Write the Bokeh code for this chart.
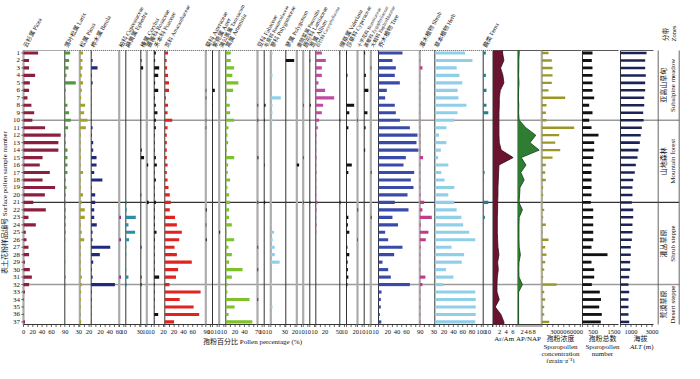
from bokeh.plotting import figure
from bokeh.models import Range1d, Label
from bokeh.core.properties import value
from bokeh.embed import file_html
from bokeh.resources import INLINE

# ---------------- data ----------------
samples = list(range(1, 38))

picea = [31.5, 12, 12, 25, 13.6, 12, 8.6, 17, 23, 19,
         46.5, 80, 75, 75, 41, 35, 56.6, 41, 68, 46,
         21, 48, 10.7, 26.5, 5, 6.5, 10.7, 12, 3, 13.6,
         18, 12, 3, 1, 0.5, 0.5, 3]
larix = [11.5, 9.3, 8, 3.6, 23.6, 2, 1, 5.7, 9.3, 13,
         7, 2, 2, 5.7, 5.7, 5.7, 5.7, 2, 3.6, 2,
         2, 2, 2, 2, 2, 1, 0.5, 0.5, 1, 0.5,
         2, 1, 0.5, 0.5, 0.5, 0.5, 0.5]
pinus = [7, 5.7, 5.7, 4.3, 7, 4.3, 3, 11.5, 9.3, 16.5,
         13, 2, 2, 2, 2, 2, 7, 2, 2, 7,
         4.3, 10.8, 10.8, 2, 4.3, 9.3, 2, 2, 2, 2,
         4.3, 4.3, 3, 2, 2, 2, 3]
betula = [0.5, 3, 13.6, 1.5, 3, 0.5, 0.5, 0.5, 0.5, 0.5,
          3, 1.5, 4.3, 4.3, 11.5, 11.5, 6.5, 24, 1.5, 8.6,
          8.6, 6.5, 6.5, 12, 3, 3, 41, 18.6, 4.3, 1.5,
          3, 51, 1.5, 1.5, 0.5, 0.5, 0.5]
cupressaceae = [0, 0, 0, 0, 0, 0, 0, 0, 0, 0,
                0, 0, 0, 0, 0, 0, 0, 0, 0, 0,
                0, 0, 4, 0, 0, 4, 0, 0, 0, 0,
                4, 0, 0, 0, 0, 0, 0]
ephedra = [0, 0, 0, 0, 0, 0, 0, 0, 0, 0,
           0, 0, 0, 0, 0, 0, 0, 0, 0, 0,
           2, 2, 21.5, 5.7, 20, 7, 1, 1, 0, 1,
           5.7, 2, 0, 0, 0, 0, 0]
corylus = [0, 1.5, 5, 0, 0, 0, 0, 0, 0, 0,
           0, 0, 0, 2, 7, 0, 0, 0, 0, 1,
           0, 0, 0, 0, 0, 0, 1.5, 0, 0, 0,
           1.5, 1.5, 0, 0, 0, 0, 0]
rosaceae = [0, 0, 0, 0, 0, 0, 0, 0, 0, 0,
            0, 0, 0, 0, 0, 3, 0, 0, 0, 0,
            4, 0, 0, 0, 0, 0, 0, 0, 0, 0,
            0, 0, 0, 0, 0, 0, 0]
poaceae = [3.6, 2, 10.7, 8.6, 2, 8.6, 1.5, 3.6, 7, 3.6,
           3.6, 1, 1, 1, 3.6, 5.7, 1, 3.6, 1, 1,
           3.6, 1, 1.5, 1.5, 5, 1.5, 1, 1, 1, 1,
           10.7, 1, 1, 1, 0.5, 8.6, 0.5]
amaranthaceae = [7, 4, 5, 7, 9, 9, 2.5, 7, 6, 16,
                 6, 4.3, 4.3, 4.3, 4.3, 6, 4.3, 6, 8, 10.7,
                 12.9, 10.7, 22, 26, 36.6, 31, 21, 26, 58, 28.6,
                 24, 10, 77, 32, 62, 74, 20]
asteraceae = [0, 0, 0, 0, 0, 1, 1, 0, 0, 1,
              1, 0, 0, 0, 0, 0, 0, 0, 0, 0,
              0, 2, 0, 1, 0, 2, 0, 0, 0, 0,
              0, 0, 0, 0, 0, 0, 0]
aster = [0, 0, 0, 0, 0, 5, 1, 1, 0, 0,
         0, 0, 0, 0, 0, 0, 0, 0, 0, 0,
         0, 0, 0, 0, 0, 0, 0, 0, 0, 0,
         0, 0, 0, 0, 0, 0, 0]
taraxacum = [0, 0, 0, 0, 0, 0, 0, 0, 0, 0,
             0, 0, 0, 0, 0, 0, 0, 0, 0, 0,
             0, 0, 0, 0, 2, 0, 0, 0, 0, 0,
             0, 0, 0, 0, 0, 0, 0]
artemisia = [10.7, 10.7, 18, 14, 27, 15.7, 2, 8.6, 9.3, 18,
             5.7, 3.6, 5, 2, 18, 5, 4.3, 9.3, 3.6, 7,
             9.3, 7, 7, 13, 2, 18, 5.7, 13, 7, 36,
             13, 3.6, 3.6, 51, 19, 6, 57]
fabaceae = [0, 0, 0, 0, 0, 0, 0, 1.5, 0, 1.5,
            0, 0, 0, 0, 2, 0, 0, 0, 0, 0,
            1.5, 0, 0, 0, 0, 0, 1.5, 0, 0, 1.5,
            0, 0, 0, 1.5, 0, 0, 0]
ranunculaceae = [0, 0, 0, 0, 0, 0, 0, 3, 0, 1,
                 0, 0, 0, 0, 0, 1, 0, 0, 0, 0,
                 2, 0, 0, 0, 0, 0, 0, 0, 0, 0,
                 0, 0, 0, 0, 0, 0, 0]
polygonaceae = [3.6, 1, 1, 3.6, 1, 1, 21.5, 3.6, 3.6, 3.6,
                1, 0.5, 0.5, 0.5, 1, 0.5, 0.5, 0.5, 0.5, 0.5,
                1, 0.5, 0.5, 1, 7, 4, 8.6, 8.6, 19, 0.5,
                0.5, 2, 0.5, 0.5, 3.6, 1, 0.5]
polygonum = [0, 18, 0, 0, 0, 0, 0, 0, 0, 0,
             0, 0, 0, 0, 0, 0, 0, 0, 0, 0,
             0, 0, 0, 0, 0, 0, 0, 0, 0, 0,
             0, 0, 0, 0, 0, 0, 0]
potentilla = [0, 0, 0, 0, 0, 0, 0, 0, 0, 0,
              0, 0, 0, 0, 0, 5, 0, 0, 0, 0,
              0, 0, 0, 0, 0, 0, 0, 0, 0, 0,
              0, 0, 0, 0, 0, 0, 0]
lamiaceae = [0, 0, 0, 0, 0, 0, 0, 1, 0, 0,
             0, 0, 0, 0, 1, 0, 0, 0, 0, 0,
             1, 0, 0, 0, 0, 0, 0, 0, 0, 0,
             0, 0, 0, 0, 0, 0, 0]
allium = [0, 1, 0, 0, 0, 0, 0, 2, 0, 0,
          0, 0, 0, 0, 0, 0, 0, 0, 0, 0,
          1, 0, 0, 0, 0, 0, 0, 0, 0, 0,
          0, 0, 0, 0, 0, 0, 0]
caryophyllaceae = [13, 21.5, 13, 13, 5.7, 20, 39.5, 15.7, 13, 7,
                   4.3, 1.5, 1, 1, 1.5, 1, 1.5, 1, 1, 1,
                   3.6, 1.5, 1, 1.5, 1, 0.5, 0.5, 0.5, 0.5, 0.5,
                   0.5, 0.5, 0.5, 0.5, 0.5, 0.5, 0.5]
valeriana = [0.5, 0, 0, 0, 0, 0, 0, 0, 0, 1,
             0, 0, 0, 0, 0, 0, 0, 0, 0, 0,
             1.5, 0, 0, 0, 0, 0, 0, 0, 0, 0,
             0, 0, 0, 0, 0, 0, 0]
cyperaceae = [0.5, 0, 0, 2, 0, 0, 0, 16.5, 6, 0,
              4, 0, 0, 0, 0, 11.4, 4, 0, 0, 0,
              0, 0, 4, 3, 6, 0, 2, 6, 2.5, 3,
              4, 2, 0, 0, 0, 0, 0]
brassicaceae = [0, 0, 0, 0, 0, 0, 0, 0, 0, 1,
                0, 0, 0, 0, 0, 0, 0, 0, 0, 0,
                0, 1.5, 0, 0, 0, 1, 0, 0, 0, 0,
                0, 0, 0, 0, 0, 0, 0]
zygophyllaceae = [2, 0, 0, 3.6, 0, 9, 0, 0, 7, 0,
                  3, 0, 0, 2, 0, 0, 0, 0, 0, 0,
                  0, 0, 0, 0, 0, 0, 0, 0, 0, 0,
                  0, 0, 0, 0, 0, 0, 0]
euphorbiaceae = [0, 0, 1, 0, 0, 0, 0, 0, 0, 0,
                 0, 0, 0, 0, 0, 0, 1.5, 0, 0, 0,
                 0, 0, 1.5, 0, 0, 0, 0, 0, 0, 0,
                 0, 0, 0, 0, 0, 0, 0]
tree = [51.6, 30, 37.3, 35, 45.9, 17.9, 14.3, 35, 37.3, 46,
        67.4, 83.9, 81.7, 86, 58.8, 53.8, 76.7, 69.6, 75.3, 62.4,
        35, 64.5, 30, 42, 14.3, 20.8, 51.6, 33.7, 8.6, 20.8,
        26.5, 67.4, 6.5, 5, 5, 3, 6]
shrub = [0.5, 1, 5.7, 0.5, 0.5, 0.5, 0.5, 0.5, 0.5, 1,
         1, 1, 1, 1, 7, 1, 1, 1, 1, 1.5,
         9.3, 5.7, 25.8, 2, 18.6, 12.9, 1.5, 1, 1, 1,
         12, 5.7, 1, 1, 1, 1, 1]
herb = [65, 81, 47, 53, 59, 49, 51, 68, 49, 42,
        25, 9, 25, 13, 7, 29, 14, 21, 42, 29,
        42, 47, 57, 61, 74, 87, 36, 63, 58, 24,
        40, 18, 87, 88, 88, 88, 87]
ferns = [5.7, 0.5, 0.5, 5.7, 0.5, 7, 0.5, 7, 11, 1,
         1.5, 0.5, 0.5, 1, 0.5, 1.5, 3, 1.5, 0.5, 1.5,
         11, 0.5, 3.6, 0.5, 0.5, 0.5, 1.5, 0.5, 0.5, 0.5,
         1.5, 0.5, 0.5, 0.5, 0.5, 0.5, 0.5]
ar_am = [2.9, 3.3, 2.3, 3.0, 3.3, 2.2, 1.9, 1.9, 1.8, 1.8,
         1.8, 1.8, 1.9, 2.5, 6.1, 1.8, 1.7, 1.6, 1.5, 1.5,
         1.4, 1.4, 1.3, 1.3, 1.3, 1.4, 1.5, 1.8, 1.4, 1.6,
         1.3, 1.2, 1.2, 1.9, 0.7, 2.4, 3.3]
ap_nap = [0.6, 0.4, 0.4, 0.3, 0.5, 0.3, 0.2, 0.4, 0.3, 0.6,
          3.9, 8.9, 6.0, 10.6, 1.6, 4.0, 1.4, 3.1, 1.0, 0.8,
          0.5, 2.2, 0.6, 0.5, 0.5, 0.5, 0.6, 1.2, 0.5, 0.4,
          0.5, 2.2, 0.3, 0.3, 0.3, 0.3, 0.3]
concentration = [12200, 18200, 19500, 19500, 18200, 12200, 42500, 8500, 7300, 8500,
                 58900, 31600, 24400, 33500, 19500, 7300, 6200, 7300, 2500, 2500,
                 2500, 4400, 2500, 7300, 1300, 12200, 6200, 8500, 6200, 4400,
                 2500, 26700, 4400, 6200, 4400, 4400, 13500]
pollen_number = [476, 443, 476, 476, 476, 476, 557, 319, 476, 319,
                 429, 762, 557, 557, 510, 429, 429, 429, 429, 429,
                 395, 510, 510, 510, 510, 510, 429, 1190, 429, 557,
                 557, 443, 824, 880, 795, 919, 871]
altitude = [2480, 2350, 2350, 2410, 2350, 2350, 2260, 2260, 2160, 2200,
            2030, 1930, 1840, 1710, 1620, 1460, 1360, 1210, 1140, 1140,
            1080, 1210, 1210, 1140, 1140, 1080, 980, 980, 920, 920,
            830, 760, 830, 760, 760, 760, 830]

zone_bounds = [10, 21, 32]
zone_cn = ["亚高山草甸", "山地森林", "灌丛草原", "荒漠草原"]
zone_en = ["Subalpine meadow", "Mountain forest", "Shrub steppe", "Desert steppe"]

# ---------------- layout ----------------
FONT = "Liberation Serif, Noto Sans CJK SC"
PX0, PX1, PY0, PY1 = 8, 692, 8, 371      # figure area in reference-pixel coordinates
ROW0, ROWH = 60.5, 7.47                   # pixel row of sample 1, pixel step per sample
PCT = 0.465                               # px per percent


def s_at(py):
    return 1 + (py - ROW0) / ROWH


TOP_S, BOT_S = s_at(58), s_at(332)
TICK_S, LAB_S = s_at(334.5), s_at(339)

p = figure(width=684, height=363, output_backend="svg", toolbar_location=None,
           x_axis_type=None, y_axis_type=None, min_border=0,
           x_range=Range1d(PX0, PX1), y_range=Range1d(s_at(PY1), s_at(PY0)),
           outline_line_color=None, background_fill_color="white",
           border_fill_color="white")
p.extra_y_ranges = {"img": Range1d(PY1, PY0)}
ranges = {}


def txt(x, y, s, size="7px", angle=0, align="center", baseline="middle",
        style="normal", xr="default", yr="img", xoff=0):
    p.add_layout(Label(x=x, y=y, text=s, x_range_name=xr, y_range_name=yr,
                       angle=angle, angle_units="deg", text_font=FONT,
                       text_font_size=size, text_align=align, text_baseline=baseline,
                       text_font_style=style, text_color="#111111", x_offset=xoff))


def fit_size(s, room=48.0, base=6.0):
    cjk = sum(1 for c in s if ord(c) > 0x2E80)
    other = len(s) - cjk
    est = cjk * 1.0 + other * 0.47
    return "%.2fpx" % min(base, room / est)


def frame(name, zero, k, span, step, labels, kind, dotted=True, fmt=str):
    ranges[name] = Range1d((PX0 - zero) / k, (PX1 - zero) / k)
    if kind == "grey":
        lc, lw = "#ababab", 2.2
    else:
        lc, lw = "#333333", 1.0
    p.segment(x0=[0], y0=[TOP_S], x1=[0], y1=[BOT_S], x_range_name=name,
              line_color=lc, line_width=lw)
    p.segment(x0=[0], y0=[TOP_S], x1=[span], y1=[TOP_S], x_range_name=name,
              line_color="#444444", line_width=0.9,
              line_dash="1 1" if dotted else "solid")
    p.segment(x0=[0], y0=[BOT_S], x1=[span], y1=[BOT_S], x_range_name=name,
              line_color="#222222", line_width=0.9)
    n = int(span / step + 1e-9) + 1
    ticks = [i * step for i in range(n)]
    p.segment(x0=ticks, y0=[BOT_S] * n, x1=ticks, y1=[TICK_S] * n,
              x_range_name=name, line_color="#222222", line_width=0.7)
    if labels:
        p.text(x=labels, y=[LAB_S] * len(labels), text=[fmt(v) for v in labels],
               x_range_name=name, text_font=value(FONT), text_font_size="6.5px",
               text_align="center", text_baseline="middle", text_color="#111111")


pct_panels = [
    ("picea", "云杉属 Picea", 31.0, "#8c1f3f", "grey", [0, 20, 40, 60, 90], picea),
    ("larix", "落叶松属 Larix", 72.3, "#4e9a3a", "dark", [30], larix),
    ("pinus", "松属 Pinus", 87.3, "#a5a22b", "grey", [20], pinus),
    ("betula", "桦木属 Betula", 98.7, "#1f2b7a", "dark", [20, 40, 60], betula),
    ("cupress", "柏科 Cupressaceae", 126.7, "#8a3a9a", "grey", [10], cupressaceae),
    ("ephedra", "麻黄属 Ephedra", 133.3, "#2b8ea8", "dark", [30], ephedra),
    ("corylus", "榛属 Corylus", 148.3, "#111111", "dark", [10], corylus),
    ("rosaceae", "蔷薇科 Rosaceae", 154.3, "#111111", "grey", [10], rosaceae),
    ("poaceae", "禾本科 Poaceae", 161.7, "#111111", "dark", [20], poaceae),
    ("amaranth", "苋科 Amaranthaceae", 172.3, "#e0231f", "dark", [20, 40, 60, 90], amaranthaceae),
    ("asteraceae", "菊科 Asteraceae", 213.3, "#111111", "grey", [10], asteraceae),
    ("aster", "紫菀属 Aster", 220.0, "#111111", "dark", [10], aster),
    ("taraxacum", "蒲公英属 Taraxacum", 226.7, "#111111", "grey", [10], taraxacum),
    ("artemisia", "蒿属 Artemisia", 233.3, "#7dc22a", "dark", [20, 40, 70], artemisia),
    ("fabaceae", "豆科 Fabaceae", 265.0, "#111111", "grey", [10], fabaceae),
    ("ranunc", "毛茛科 Ranunculaceae", 271.7, "#111111", "dark", [10], ranunculaceae),
    ("polygonaceae", "蓼科 Polygonaceae", 278.3, "#8fd0ec", "grey", [30], polygonaceae),
    ("polygonum", "蓼属 Polygonum", 293.3, "#111111", "dark", [20], polygonum),
    ("potentilla", "委陵菜属 Potentilla", 304.3, "#111111", "grey", [10], potentilla),
    ("lamiaceae", "唇形科 Lamiaceae", 310.7, "#111111", "grey", [10], lamiaceae),
    ("allium", "葱属 Allium", 317.3, "#111111", "dark", [10], allium),
    ("caryo", "石竹科 Caryophyllaceae", 323.3, "#c04aa0", "dark", [20, 50], caryophyllaceae),
    ("valeriana", "缬草属 Valeriana", 347.3, "#111111", "dark", [10], valeriana),
    ("cyperaceae", "莎草科 Cyperaceae", 354.0, "#111111", "dark", [20], cyperaceae),
    ("brassica", "十字花科 Brassicaceae", 365.0, "#111111", "grey", [10], brassicaceae),
    ("zygo", "蒺藜科 Zygophyllaceae", 371.7, "#111111", "dark", [10], zygophyllaceae),
    ("euphorb", "大戟科 Euphorbiaceae", 378.3, "#111111", "grey", [10], euphorbiaceae),
    ("tree", "乔木植物 Tree", 386.0, "#3a4aa8", "dark", [20, 40, 60, 90], tree),
    ("shrub", "灌木植物 Shrub", 427.3, "#c23a8a", "grey", [30], shrub),
    ("herb", "草本植物 Herb", 442.3, "#8fcfe8", "dark", [20, 40, 60, 80, 100], herb),
    ("ferns", "蕨类 Ferns", 490.7, "#1f7f94", "dark", [10], ferns),
]
NEXT_ZERO_AFTER_FERNS = 500.5

# zone boundary lines (behind bars)
p.segment(x0=[31] * 3, y0=zone_bounds, x1=[686.7] * 3, y1=zone_bounds,
          line_color=["#9a9a9a", "#333333", "#9a9a9a"], line_width=[1.5, 1.2, 1.5])

for i, (name, label, zero, color, kind, labs, vals) in enumerate(pct_panels):
    nxt = pct_panels[i + 1][2] if i + 1 < len(pct_panels) else NEXT_ZERO_AFTER_FERNS
    span = (nxt - zero) / PCT
    frame(name, zero, PCT, span, 10, labs, kind)
    p.hbar(y=samples, height=0.42, left=0, right=vals, x_range_name=name,
           fill_color=color, line_color=None)
    txt(0, 54.5, label, size=fit_size(label), angle=62, align="left", xr=name, xoff=1.5)

# ---- ratio / count panels ----
ys_area = [TOP_S] + samples + [BOT_S]

frame("aram", 500.5, 3.3, (525.5 - 500.5) / 3.3, 1, [2, 4, 6], "dark", dotted=False)
aa = [ar_am[0]] + ar_am + [ar_am[-1]]
p.harea(x1=[0] * len(aa), x2=aa, y=ys_area, x_range_name="aram",
        fill_color="#6b1430")
p.line(x=aa, y=ys_area, x_range_name="aram", line_color="#3a0818", line_width=0.8)

frame("apnap", 525.5, 2.0, (549.3 - 525.5) / 2.0, 1, [2, 4, 6, 8], "dark", dotted=False)
ap = [ap_nap[0]] + ap_nap + [ap_nap[-1]]
p.harea(x1=[0] * len(ap), x2=ap, y=ys_area, x_range_name="apnap",
        fill_color="#2e7d32")
p.line(x=ap, y=ys_area, x_range_name="apnap", line_color="#123d14", line_width=0.8)

frame("conc", 549.3, 0.00055, (589.0 - 549.3) / 0.00055, 10000, [30000, 60000],
      "grey", dotted=False)
p.hbar(y=samples, height=0.32, left=0, right=concentration, x_range_name="conc",
       fill_color="#9b9626", line_color=None)

frame("num", 590.0, 0.021, (626.0 - 590.0) / 0.021, 250, [500, 1500], "dark", dotted=False)
p.hbar(y=samples, height=0.38, left=0, right=pollen_number, x_range_name="num",
       fill_color="#111111", line_color=None)

frame("alt", 628.0, 0.0105, (661.0 - 628.0) / 0.0105, 500, [1000, 3000], "dark", dotted=False)
p.hbar(y=samples, height=0.34, left=0, right=altitude, x_range_name="alt",
       fill_color="#1a2257", line_color=None)

p.extra_x_ranges = ranges

# ---- sample axis ----
p.text(x=[27.5] * len(samples), y=samples, text=[str(s) for s in samples],
       text_font=value(FONT), text_font_size="7px", text_align="right",
       text_baseline="middle", text_color="#111111")
p.segment(x0=[28.8] * len(samples), y0=samples, x1=[31] * len(samples), y1=samples,
          line_color="#333333", line_width=0.7)

# ---- zone column ----
p.segment(x0=[665.7, 686.7], y0=[TOP_S, TOP_S], x1=[665.7, 686.7], y1=[BOT_S, BOT_S],
          line_color="#555555", line_width=0.9)
edges = [TOP_S] + zone_bounds + [BOT_S]
for j in range(4):
    mid = (edges[j] + edges[j + 1]) / 2
    txt(671.5, mid, zone_cn[j], size="7px", angle=90, yr="default")
    txt(680.0, mid, zone_en[j], size="7px", angle=90, yr="default")
txt(673.0, 42, "分带", size="6.5px", angle=90)
txt(680.5, 41, "Zones", size="6.5px", angle=90)

# ---- titles ----
txt(12, 210, "表土花粉样品编号 Surface pollen sample number", size="7px", angle=90)
txt(260, 349, "孢粉百分比 Pollen percentage (%)", size="7px")
txt(511.7, 346.5, "Ar/Am", size="7px")
txt(536, 346.5, "AP/NAP", size="7px")
txt(568, 346.5, "孢粉浓度", size="7px")
txt(568, 354, "Sporopollen", size="7px")
txt(568, 361.3, "concentration", size="7px")
txt(568, 367.6, "(grain·g⁻¹)", size="6.8px")
txt(610, 346.5, "孢粉总数", size="7px")
txt(610, 354, "Sporopollen", size="7px")
txt(610, 361.3, "number", size="7px")
txt(648, 346.5, "海拔", size="7px")
txt(649.5, 354, "ALT", size="7px", align="right", style="italic")
txt(651, 354, "(m)", size="7px", align="left")

open("out.html", "w").write(file_html(p, INLINE))
